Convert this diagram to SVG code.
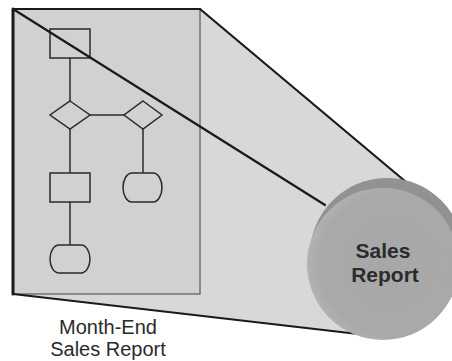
<svg xmlns="http://www.w3.org/2000/svg" width="452" height="361" viewBox="0 0 452 361">
  <style>
    .flow { fill: none; stroke: #2a2a2a; stroke-width: 1.5; }
    .edge { fill: none; stroke: #1a1a1a; stroke-width: 2.2; stroke-linecap: round; }
    .caption { font-family: "Liberation Sans", Arial, sans-serif; font-size: 20px; fill: #2a2a2a; text-anchor: middle; }
    .disc-label { font-family: "Liberation Sans", Arial, sans-serif; font-size: 21px; font-weight: bold; fill: #2b2b2b; text-anchor: middle; }
  </style>
  <defs>
    <radialGradient id="faceShade" cx="0.55" cy="0.5" r="0.55">
      <stop offset="0" stop-color="#a7a7a7"/>
      <stop offset="0.85" stop-color="#a9a9a9"/>
      <stop offset="1" stop-color="#b3b3b3"/>
    </radialGradient>
  </defs>
  <rect width="452" height="361" fill="#ffffff"/>

  <!-- projection cone from the page to the disc -->
  <g id="cone">
    <polygon points="200,9 410,185 430,230 400,320 355,333 13,294" fill="#d8d8d8"/>
  </g>

  <!-- the report page -->
  <g id="page">
    <rect x="13" y="9" width="187" height="285" fill="#d1d1d1" stroke="#707070" stroke-width="1.5"/>
  </g>

  <!-- flowchart drawn on the page -->
  <g id="connectors" class="flow">
    <line x1="70" y1="58" x2="70" y2="101"/>
    <line x1="90" y1="115" x2="124" y2="115"/>
    <line x1="70" y1="129" x2="70" y2="173"/>
    <line x1="70" y1="202" x2="70" y2="245"/>
    <line x1="143" y1="129" x2="143" y2="173"/>
  </g>
  <g id="box-top" class="flow"><rect x="50" y="29" width="40" height="29"/></g>
  <g id="decision-left" class="flow"><polygon points="70,101 90,115 70,129 50,115"/></g>
  <g id="decision-right" class="flow"><polygon points="143,101 162,115 143,129 124,115"/></g>
  <g id="box-middle" class="flow"><rect x="50" y="173" width="40" height="29"/></g>
  <g id="end-right" class="flow"><path d="M132,173 H153 A9,14.5 0 0 1 153,202 H132 A9,14.5 0 0 1 132,173 Z"/></g>
  <g id="end-left" class="flow"><path d="M59,245 H81 A9,14 0 0 1 81,273 H59 A9,14 0 0 1 59,245 Z"/></g>

  <!-- outline of the cone and page edges -->
  <g id="cone-edges" class="edge">
    <line x1="13" y1="9" x2="325" y2="205"/>
    <line x1="200" y1="9" x2="412" y2="187"/>
    <line x1="13" y1="294" x2="358" y2="334"/>
    <line x1="13" y1="9" x2="200" y2="9"/>
    <line x1="13" y1="9" x2="13" y2="294" stroke-width="3"/>
  </g>

  <!-- the summary disc -->
  <g id="disc">
    <circle cx="387" cy="255" r="77" fill="#929292"/>
    <circle cx="383" cy="264" r="76" fill="url(#faceShade)"/>
    <text class="disc-label" x="383" y="258">Sales</text>
    <text class="disc-label" x="385" y="282">Report</text>
  </g>

  <g id="caption">
    <text class="caption" x="108" y="334">Month-End</text>
    <text class="caption" x="108" y="356">Sales Report</text>
  </g>
</svg>
